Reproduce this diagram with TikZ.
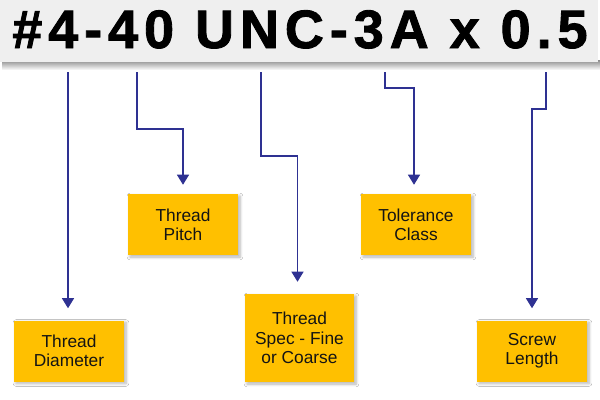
\documentclass[tikz,border=0pt]{standalone}
\usepackage{fontspec}
\setmainfont{Liberation Sans}
\newfontfamily\headfont[LetterSpace=11,FakeBold=1.6]{Liberation Sans Bold}
\usetikzlibrary{arrows.meta,shadows.blur}
\definecolor{boxfill}{HTML}{FFC000}
\definecolor{linkblue}{HTML}{2E3192}
\definecolor{bandgray}{HTML}{EFEFEF}
\definecolor{txt}{HTML}{141414}
\tikzset{
  label box/.style={fill=boxfill, text=txt, align=center,
    minimum width=82.5pt, minimum height=45.75pt, inner sep=0pt,
    font=\fontsize{13pt}{14.5pt}\selectfont,
    blur shadow={shadow xshift=1.5pt, shadow yshift=-1.5pt, shadow blur steps=6, shadow opacity=30}},
  link/.style={draw=linkblue, line width=0.8pt,
    -{Triangle[width=9pt,length=7.5pt]}}
}
\begin{document}
\begin{tikzpicture}[x=0.75pt,y=-0.75pt]
\useasboundingbox (0,0) rectangle (600,400);
\fill[white] (0,0) rectangle (600,400);
% header band and its shadow
\shade[top color=black!45, bottom color=white] (2,60) rectangle (600,70);
\fill[bandgray] (0,0) rectangle (598,62);
\node[anchor=base, inner sep=0pt, text=black, font=\headfont\fontsize{40.5pt}{40pt}\selectfont] (title) at (300,48) {\#4-40 UNC-3A x 0.5};
% boxes
\node[label box] (dia) at (69,351) {Thread\\Diameter};
\node[label box] (pitch) at (183,224.5) {Thread\\Pitch};
\node[label box, minimum width=81.75pt, minimum height=66pt] (spec) at (299.5,338) {Thread\\Spec - Fine\\or Coarse};
\node[label box] (tol) at (416,224.5) {Tolerance\\Class};
\node[label box] (len) at (532,351) {Screw\\Length};
% connector start points
\coordinate (s1) at (68,72);
\coordinate (s2) at (137,72);
\coordinate (s3) at (261,72);
\coordinate (s4) at (385,72);
\coordinate (s5) at (546,72);
\coordinate (b2) at (137,129);
\coordinate (b3) at (261,156);
\coordinate (b4) at (385,88);
\coordinate (b5) at (546,109);
% connectors
\draw[link, shorten >=9pt] (s1) -- (s1 |- dia.north);
\draw[link, shorten >=6.75pt] (s2) -- (b2) -| (pitch.north);
\draw[link, shorten >=9pt] (s3) -- (b3) -| ([xshift=-1.5pt]spec.north);
\draw[link, shorten >=6.75pt] (s4) -- (b4) -| ([xshift=-1.5pt]tol.north);
\draw[link, shorten >=9pt] (s5) -- (b5) -| (len.north);
\end{tikzpicture}
\end{document}
